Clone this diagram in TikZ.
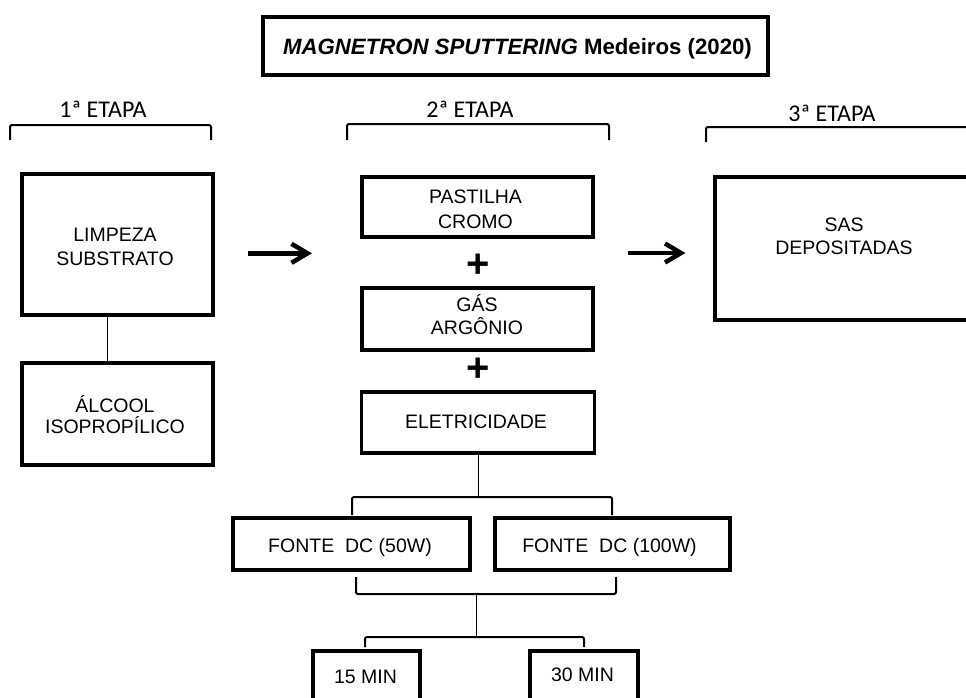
\documentclass[tikz,border=0pt]{standalone}
\usepackage{fontspec}
\setmainfont{Liberation Sans}
\newfontfamily\calib{Carlito}
\usetikzlibrary{arrows.meta}
\tikzset{
  boxnode/.style={draw, line width=3.2pt, inner sep=0pt},
  txt/.style={anchor=base, inner sep=0pt, font=\fontsize{19.5}{19.5}\selectfont},
  etapa/.style={anchor=base, font=\calib\fontsize{24}{24}\selectfont, inner sep=0pt},
  brk/.style={line width=2pt, rounded corners=2pt},
  link/.style={line width=1pt},
  shaft/.style={line width=4.5pt},
  chevron/.style={line width=4.5pt, line join=miter},
  plus/.style={font=\bfseries\fontsize{40}{40}\selectfont, inner sep=0pt}
}
\begin{document}
\begin{tikzpicture}[x=1pt,y=-1pt]
\useasboundingbox (0,0) rectangle (966,697);
\clip (0,0) rectangle (966,697);
% title
\node[boxnode, minimum width=505pt, minimum height=58pt] (title) at (515.5,46) {};
\node[txt, font=\bfseries\fontsize{22.2}{22.2}\selectfont] (titleT) at (517.5,54)
  {\textit{MAGNETRON SPUTTERING} Medeiros (2020)};
% etapa labels and brackets
\node[etapa] (e1) at (103,117) {1ª ETAPA};
\node[etapa] (e2) at (470,117) {2ª ETAPA};
\node[etapa] (e3) at (832,121) {3ª ETAPA};
\draw[brk] (10,140) -- (10,125) -- (211,125) -- (211,140);
\draw[brk] (347,140) -- (347,124) -- (609,124) -- (609,140);
\draw[brk] (706,142) -- (706,127) -- (990,127);
% stage 1
\node[boxnode, minimum width=191pt, minimum height=141pt] (limpeza) at (117.5,244.5) {};
\node[txt] (limpezaA) at (115,241.7) {LIMPEZA};
\node[txt] (limpezaB) at (115,265) {SUBSTRATO};
\node[boxnode, minimum width=191pt, minimum height=102pt] (alcool) at (117.5,414) {};
\node[txt] (alcoolA) at (115,412) {ÁLCOOL};
\node[txt] (alcoolB) at (115,433) {ISOPROPÍLICO};
\draw[link] ([xshift=-10.5pt]limpeza.south) -- ([xshift=-10.5pt]alcool.north);
% stage 2
\node[boxnode, minimum width=231pt, minimum height=60pt] (pastilha) at (477.5,207) {};
\node[txt] (pastilhaA) at (475.5,203.3) {PASTILHA};
\node[txt] (pastilhaB) at (475.5,228.3) {CROMO};
\node[plus] (plus1) at (478,266) {+};
\node[boxnode, minimum width=231pt, minimum height=62pt] (gas) at (477.5,319) {};
\node[txt] (gasA) at (477,311.7) {GÁS};
\node[txt] (gasB) at (477,334.3) {ARGÔNIO};
\node[plus] (plus2) at (478,370) {+};
\node[boxnode, minimum width=233pt, minimum height=61pt] (eletr) at (478,422.5) {};
\node[txt] (eletrT) at (476,428.3) {ELETRICIDADE};
% stage 3
\node[boxnode, minimum width=260pt, minimum height=143pt] (sas) at (845,248.5) {};
\node[txt] (sasA) at (844,231) {SAS};
\node[txt] (sasB) at (844,254.3) {DEPOSITADAS};
% arrows
\coordinate (a1s) at (248,253.3); \coordinate (a1e) at (307.5,253.3);
\coordinate (a2s) at (628,253); \coordinate (a2e) at (681,253);
\draw[shaft] (a1s) -- ([xshift=-2pt]a1e);
\draw[chevron] ([shift={(-16,-9.5)}]a1e) -- (a1e) -- ([shift={(-16,9.5)}]a1e);
\draw[shaft] (a2s) -- ([xshift=-2pt]a2e);
\draw[chevron] ([shift={(-16,-9.5)}]a2e) -- (a2e) -- ([shift={(-16,9.5)}]a2e);
% sources
\node[boxnode, minimum width=237pt, minimum height=52pt] (f50) at (351.5,544) {};
\node[txt] (f50T) at (350,552.5) {FONTE\ \ DC (50W)};
\node[boxnode, minimum width=235pt, minimum height=52pt] (f100) at (612.5,544) {};
\node[txt] (f100T) at (609.5,552.5) {FONTE\ \ DC (100W)};
\coordinate (b1) at (478,497);
\draw[link] (eletr.south) -- (b1);
\draw[brk] (352,515) -- (352,497) -- (612,497) -- (612,515);
\coordinate (b2) at (476,594);
\draw[brk] (356,577) -- (356,594) -- (616,594) -- (616,577);
\coordinate (b3) at (476,637);
\draw[link] (b2) -- (b3);
\draw[brk] (365,647) -- (365,637) -- (584,637) -- (584,647);
% times
\node[boxnode, minimum width=107pt, minimum height=54pt] (m15) at (366.5,678) {};
\node[txt] (m15T) at (365.5,683.3) {15 MIN};
\node[boxnode, minimum width=108pt, minimum height=54pt] (m30) at (584,678) {};
\node[txt] (m30T) at (582.5,681.7) {30 MIN};
\end{tikzpicture}
\end{document}
